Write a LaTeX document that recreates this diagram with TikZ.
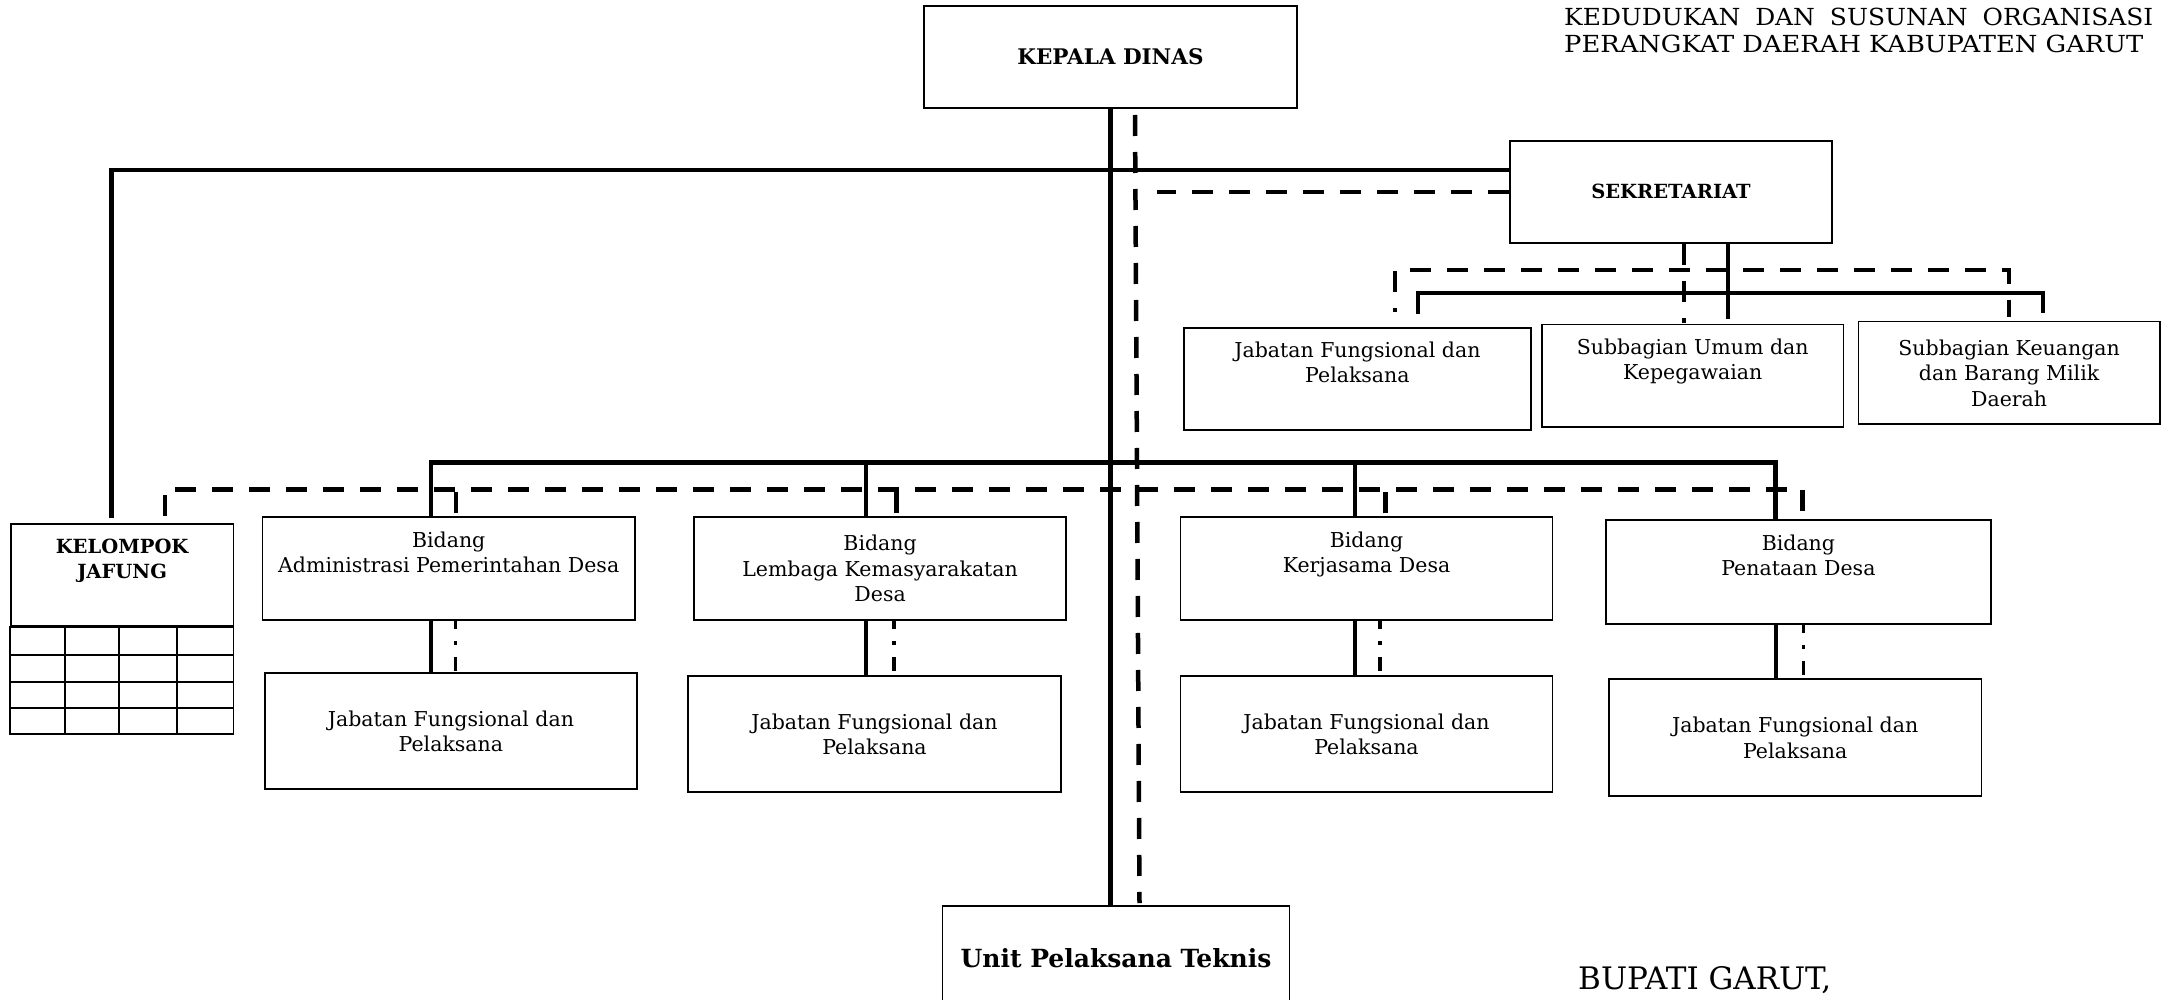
\documentclass[tikz,border=0pt]{standalone}
\usepackage{fontspec}
\setmainfont{DejaVu Serif}
\usetikzlibrary{calc}
\begin{document}
\begin{tikzpicture}[x=1pt,y=-1pt,
  box/.style={draw, line width=1.8pt, inner sep=0pt, align=center, anchor=center},
  body/.style={font=\fontsize{20.5}{25.5}\selectfont},
  head/.style={font=\fontsize{19.5}{24.5}\selectfont\bfseries},
  sl/.style={line width=4.5pt},
  sl2/.style={line width=4pt},
  dl/.style={line width=4.5pt, dash pattern=on 21pt off 16pt},
  ddl/.style={line width=3.5pt, dash pattern=on 14pt off 12pt on 4pt off 12pt, dash phase=6pt},
  grid/.style={line width=1.8pt}]
\fill[white] (0,0) rectangle (2166,1000);
\useasboundingbox (0,0) rectangle (2166,1000);
\clip (0,0) rectangle (2166,1000);

% ---------- nodes ----------
\node[box, font=\fontsize{21.5}{26}\selectfont\bfseries, minimum width=373pt, minimum height=102.3pt] (kd) at (1110.5,56.9) {KEPALA DINAS};
\node[box, head, minimum width=322.7pt, minimum height=102.3pt] (sek) at (1671,191.9) {SEKRETARIAT};
\node[box, body, minimum width=347.3pt, minimum height=102.3pt] (jfs) at (1357.4,378.9) {Jabatan Fungsional dan\\Pelaksana\\\strut};
\node[box, body, minimum width=301.4pt, minimum height=102.2pt] (sbu) at (1692.7,375.6) {Subbagian Umum dan\\Kepegawaian\\\strut};
\node[box, body, minimum width=301.2pt, minimum height=102.8pt] (sbk) at (2009.1,372.9) {Subbagian Keuangan\\dan Barang Milik\\Daerah};
\node[box, head, minimum width=222.8pt, minimum height=101.7pt] (kj) at (122.1,574.9) {KELOMPOK\\JAFUNG\\\strut};

\node[box, body, minimum width=372.3pt, minimum height=102.7pt] (b1) at (448.7,568.7) {Bidang\\Administrasi Pemerintahan Desa\\\strut};
\node[box, body, minimum width=372.4pt, minimum height=102.7pt] (b2) at (880.1,568.7) {Bidang\\Lembaga Kemasyarakatan\\Desa};
\node[box, body, minimum width=372pt, minimum height=102.7pt] (b3) at (1366.5,568.7) {Bidang\\Kerjasama Desa\\\strut};
\node[box, body, minimum width=385.6pt, minimum height=104pt] (b4) at (1798.4,572) {Bidang\\Penataan Desa\\\strut};

\node[box, body, minimum width=372.3pt, minimum height=116pt] (j1) at (450.9,731.3) {Jabatan Fungsional dan\\Pelaksana};
\node[box, body, minimum width=372.4pt, minimum height=116.3pt] (j2) at (874.5,734.2) {Jabatan Fungsional dan\\Pelaksana};
\node[box, body, minimum width=372pt, minimum height=116.3pt] (j3) at (1366.5,734.2) {Jabatan Fungsional dan\\Pelaksana};
\node[box, body, minimum width=372.7pt, minimum height=116.7pt] (j4) at (1795.2,737.7) {Jabatan Fungsional dan\\Pelaksana};

\node[box, font=\fontsize{25}{30}\selectfont\bfseries, minimum width=347.1pt, minimum height=104pt] (upt) at (1116,958) {Unit Pelaksana Teknis};

\node[anchor=base west, inner sep=0pt, font=\fontsize{23.5}{27.6}\selectfont] (t1) at (1564,25.1)
  {\resizebox{589pt}{\height}{KEDUDUKAN\hspace{0.6em}DAN\hspace{0.6em}SUSUNAN\hspace{0.6em}ORGANISASI}};
\node[anchor=base west, inner sep=0pt, font=\fontsize{23.5}{27.6}\selectfont] (t2) at (1564,52.7)
  {\resizebox{579pt}{\height}{PERANGKAT DAERAH KABUPATEN GARUT}};
\node[anchor=base west, inner sep=0pt, font=\fontsize{31}{36}\selectfont] (bup) at (1578,989.3) {BUPATI GARUT,};

% ---------- kelompok grid ----------
\draw[grid] (kj.south west) rectangle (233.5,734);
\foreach \yy in {655,682.3,708.3} \draw[grid] (10.7,\yy) -- (233.5,\yy);
\foreach \xx in {65.2,119.2,177.2} \draw[grid] (\xx,625.7) -- (\xx,734);

% ---------- main lines ----------
\draw[sl] (kd.south) -- (kd.south |- upt.north);
\coordinate (dtop) at (1135,115);
\draw[dl] (dtop) -- ($(upt.north)+(23.5,-2)$);

% top bus to sekretariat and kelompok
\draw[sl] ($(kj.north)+(-10.5,-5)$) |- ($(sek.west)+(0,-21.7)$);
\coordinate (dsekL) at (1157,191.9);
\draw[dl] (sek.west) -- (dsekL);

% sekretariat children
\draw[sl2] ($(sek.south)+(57,0)$) -- ($(sek.south)+(57,75)$);
\draw[sl2] ($(jfs.north)+(60.2,-12.7)$) |- ($(sek.south)+(0,49.3)$) -| ($(sbk.north)+(33.9,-7.5)$);
\draw[dl, line width=4pt] ($(sek.south)+(13,0)$) -- ($(sek.south)+(13,79)$);
\draw[dl, line width=4pt, dash phase=17pt] ($(jfs.north)+(37.6,-14.7)$) |- ($(sek.south)+(0,26)$) -| ($(sbk.north)+(0,-3.5)$);

% middle solid bus
\draw[sl] ($(b1.north)+(-17.9,0)$) |- ($(kd.south)+(0,353.5)$) -| ($(b4.north)+(-23,0)$);
\draw[sl] ($(b2.north)+(-14.3,0)$) -- ($(b2.north)+(-14.3,-55.8)$);
\draw[sl] ($(b3.north)+(-11.7,0)$) -- ($(b3.north)+(-11.7,-55.8)$);

% middle dashed bus
\draw[dl] ($(kj.north)+(42.9,-7)$) |- ($(kd.south)+(0,380.3)$) -| ($(b4.north)+(4.2,-8)$);
\draw[dl] ($(b1.north)+(7.3,-3)$) -- ($(b1.north)+(7.3,-24)$);
\draw[dl] ($(b2.north)+(16.3,-3)$) -- ($(b2.north)+(16.3,-24)$);
\draw[dl] ($(b3.north)+(19,-3)$) -- ($(b3.north)+(19,-24)$);

% bidang -> jabatan
\coordinate (c1) at ($(b1.south)+(-17.9,0)$);
\coordinate (e1) at ($(b1.south)+(6.7,0)$);
\coordinate (c2) at ($(b2.south)+(-14.3,0)$);
\coordinate (e2) at ($(b2.south)+(13.8,0)$);
\coordinate (c3) at ($(b3.south)+(-12,0)$);
\coordinate (e3) at ($(b3.south)+(13.5,0)$);
\coordinate (c4) at ($(b4.south)+(-22.4,0)$);
\coordinate (e4) at ($(b4.south)+(4.9,0)$);
\draw[sl2] (c1) -- (c1 |- j1.north);
\draw[ddl] (e1) -- (e1 |- j1.north);
\draw[sl2] (c2) -- (c2 |- j2.north);
\draw[ddl] (e2) -- (e2 |- j2.north);
\draw[sl2] (c3) -- (c3 |- j3.north);
\draw[ddl] (e3) -- (e3 |- j3.north);
\draw[sl2] (c4) -- (c4 |- j4.north);
\draw[ddl] (e4) -- (e4 |- j4.north);
\end{tikzpicture}
\end{document}
